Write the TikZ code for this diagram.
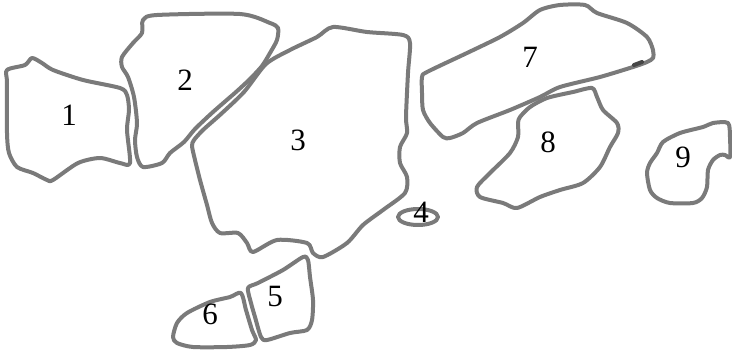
\documentclass[tikz,border=0pt]{standalone}
\usepackage{fontspec}
\setmainfont{Liberation Serif}
\begin{document}
\begin{tikzpicture}[x=1pt,y=-1pt,
  blob/.style={draw=black!52, line width=4pt, line join=round},
  lbl/.style={font=\fontsize{31}{31}\selectfont, inner sep=0pt}]
\useasboundingbox (0,0) rectangle (732,356);
% 1
\draw[blob] plot[smooth cycle, tension=0.45] coordinates {(7,70) (25,65) (32,58) (42,63) (53,70) (83,80) (120,88) (127,95) (129,110) (127,130) (130,163) (120,163) (100,158) (78,163) (53,180) (47,180) (33,173) (17,167) (9,153) (7,133) (7,83)};
% 2
\draw[blob] plot[smooth cycle, tension=0.45] coordinates {(143,20) (157,15) (240,14) (270,23) (278,28) (277,40) (270,53) (262,66) (250,79) (236,92) (213,112) (195,129) (184,142) (170,153) (162,163) (143,167) (137,157) (135,140) (137,123) (134,97) (128,77) (122,67) (122,57) (133,43) (142,33)};
% 3
\draw[blob] plot[smooth cycle, tension=0.45] coordinates {(194,140) (203,130) (221,114) (244,92) (266,64) (290,50) (317,37) (333,27) (367,32) (403,35) (410,43) (408,73) (406,117) (407,133) (400,147) (400,163) (407,177) (405,193) (383,210) (363,225) (347,243) (323,257) (313,253) (307,243) (277,240) (253,252) (247,243) (238,233) (220,233) (212,223) (207,205) (200,180) (195,160) (192,146)};
% 4
\draw[blob] (418,217) ellipse [x radius=20, y radius=8];
% 5
\draw[blob] plot[smooth cycle, tension=0.45] coordinates {(248,288) (258,283) (283,270) (303,257) (308,260) (310,277) (313,300) (312,320) (307,330) (290,333) (267,340) (261,337) (255,317) (251,303)};
% 6
\draw[blob] plot[smooth cycle, tension=0.45] coordinates {(241,293) (230,297) (210,302) (187,313) (177,323) (173,337) (177,343) (193,347) (227,347) (250,345) (256,340) (252,330) (246,310)};
% 7
\draw[blob] plot[smooth cycle, tension=0.45] coordinates {(422,77) (427,72) (467,53) (500,37) (523,23) (540,10) (560,5) (585,5) (597,13) (627,23) (647,37) (653,50) (653,58) (647,62) (633,67) (600,77) (560,87) (540,97) (510,110) (477,123) (463,133) (450,138) (443,137) (430,123) (423,110) (422,93)};
\draw[black!72, line width=4pt, line cap=round] (634,65) -- (642,62);
% 8
\draw[blob] plot[smooth cycle, tension=0.45] coordinates {(520,117) (530,107) (547,98) (573,92) (592,88) (597,97) (603,110) (617,123) (618,133) (610,147) (600,167) (583,183) (560,190) (540,197) (517,208) (503,203) (480,197) (477,187) (490,173) (510,153) (518,137) (518,123)};
% 9
\draw[blob] plot[smooth cycle, tension=0.45] coordinates {(713,123) (728,123) (730,137) (730,157) (725,155) (720,155) (713,160) (708,170) (707,187) (702,198) (693,203) (670,203) (657,198) (650,190) (647,173) (650,163) (657,153) (663,142) (680,133) (703,127)};
\node[lbl] (n1) at (69,115) {1};
\node[lbl] (n2) at (185,80) {2};
\node[lbl] (n3) at (298,140) {3};
\node[lbl] (n4) at (421,212) {4};
\node[lbl] (n5) at (275,297) {5};
\node[lbl] (n6) at (210,314) {6};
\node[lbl] (n7) at (530,57) {7};
\node[lbl] (n8) at (548,142) {8};
\node[lbl] (n9) at (683,157) {9};
\end{tikzpicture}
\end{document}
